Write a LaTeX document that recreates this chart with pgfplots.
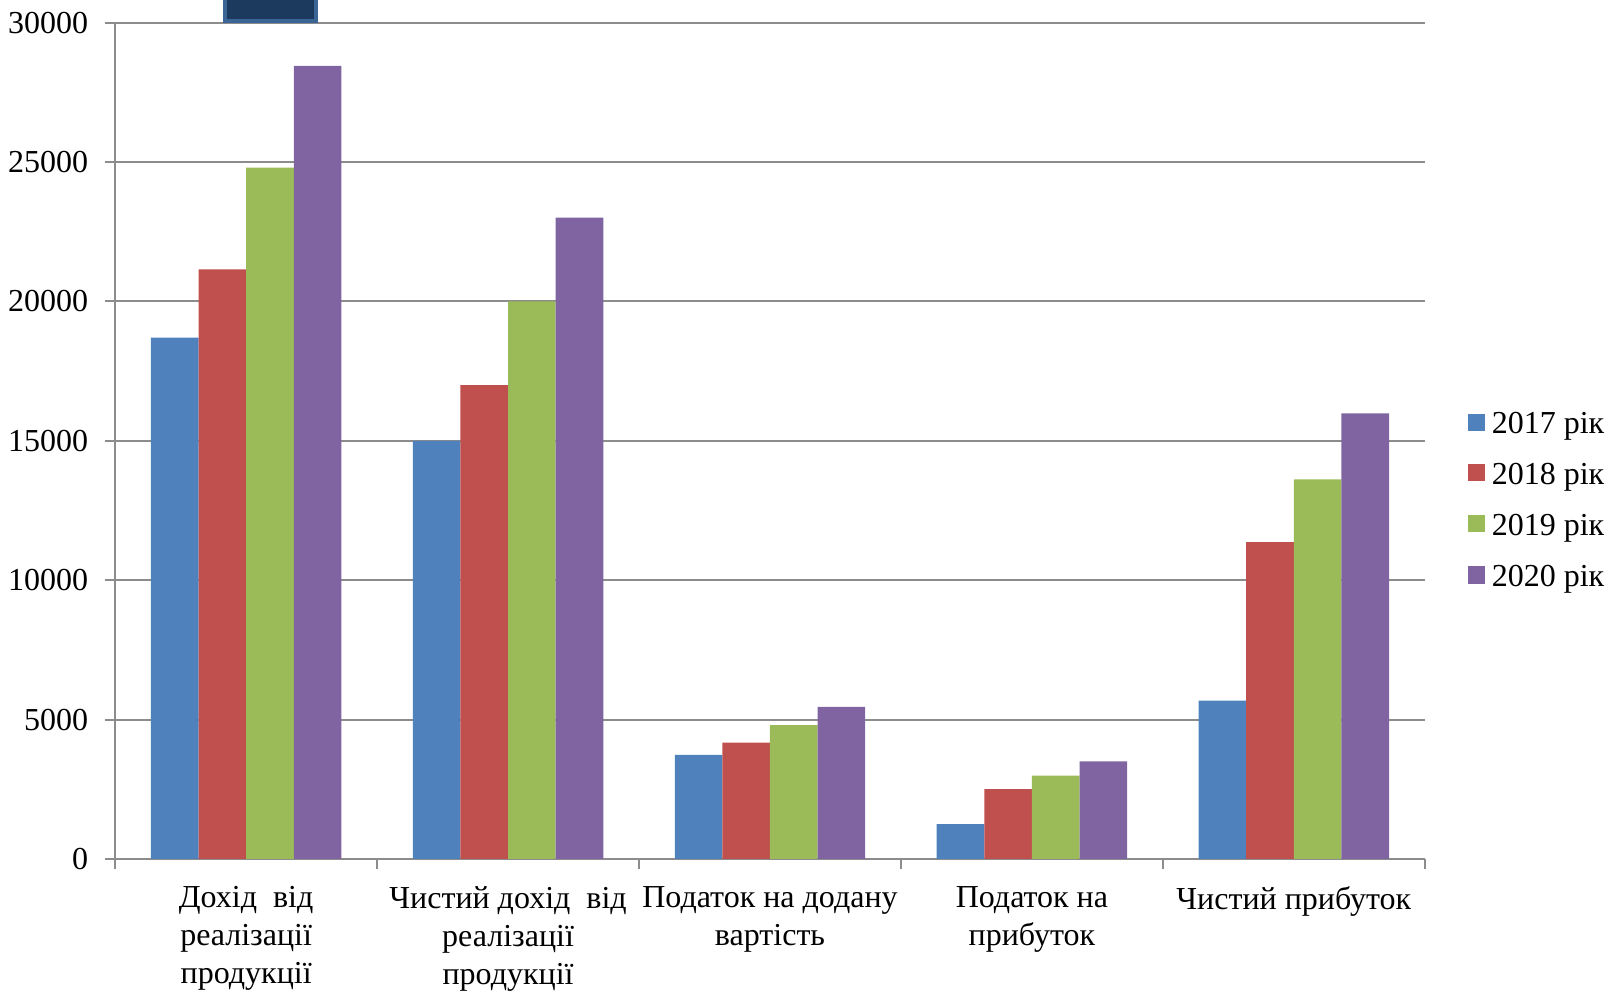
\documentclass[border=0pt]{standalone}
\usepackage{fontspec}
\setmainfont{Liberation Serif}
\usepackage{pgfplots}
\pgfplotsset{compat=1.18}
\definecolor{s1}{HTML}{4F81BD}
\definecolor{s2}{HTML}{C0504D}
\definecolor{s3}{HTML}{9BBB59}
\definecolor{s4}{HTML}{8064A2}
\definecolor{gridc}{HTML}{8C8C8C}
\definecolor{boxf}{HTML}{1C3A5E}
\definecolor{boxb}{HTML}{3A6595}
\newcommand{\lblfont}{\fontsize{16}{18.5}\selectfont}
\newcommand{\catfont}{\fontsize{16}{19}\selectfont}
\begin{document}
\begin{tikzpicture}
\useasboundingbox (0,0) rectangle (806.5pt,497pt);
\begin{axis}[
  at={(57.6pt,67.5pt)}, anchor=south west,
  scale only axis, width=654.8pt, height=418.2pt,
  xmin=0.5, xmax=5.5, ymin=0, ymax=30000,
  ybar=0pt, bar width=23.8pt,
  axis x line*=bottom, axis y line*=left,
  axis line style={gridc, line width=1pt, -},
  ytick={0,5000,10000,15000,20000,25000,30000},
  scaled y ticks=false,
  yticklabel style={font=\lblfont, xshift=-5pt, /pgf/number format/1000 sep={}, /pgf/number format/assume math mode=true},
  ymajorgrids, major grid style={gridc, line width=1pt},
  tick align=outside, major tick length=5pt,
  tick style={gridc, line width=1pt},
  xtick={0.5,1.5,2.5,3.5,4.5,5.5},
  xticklabels={},
  extra x ticks={1,2,3,4,5},
  extra x tick style={major tick length=0pt, grid=none},
  extra x tick labels={{Дохід\hspace{0.5em}від\\реалізації\\продукції},{Чистий дохід\hspace{0.5em}від\\реалізації\\продукції},{Податок на додану\\вартість},{Податок на\\прибуток},{Чистий прибуток}},
  xticklabel style={font=\catfont, align=center, anchor=north, yshift=-10.3pt},
  legend style={draw=none, fill=none, at={(1,0.431)}, anchor=west, xshift=21.6pt,
    inner sep=0pt, outer sep=0pt, row sep=14.5pt, column sep=3.4pt, font=\lblfont,
    nodes={inner sep=0pt, text height=11pt, text depth=0pt}},
  legend cell align=left,
  legend image code/.code={\fill[#1] (0pt,-4.25pt) rectangle (8.5pt,4.25pt);},
]
\addplot[fill=s1, draw=none] coordinates {(1,18700) (2,15000) (3,3730) (4,1255) (5,5680)};
\addplot[fill=s2, draw=none] coordinates {(1,21150) (2,17000) (3,4170) (4,2510) (5,11365)};
\addplot[fill=s3, draw=none] coordinates {(1,24800) (2,20000) (3,4800) (4,2990) (5,13620)};
\addplot[fill=s4, draw=none] coordinates {(1,28450) (2,23000) (3,5460) (4,3505) (5,15980)};
\legend{2017 рік,2018 рік,2019 рік,2020 рік}
\end{axis}
\draw[draw=boxb, line width=2pt, fill=boxf] (112.35pt,486.65pt) rectangle (158pt,500pt);
\end{tikzpicture}
\end{document}
